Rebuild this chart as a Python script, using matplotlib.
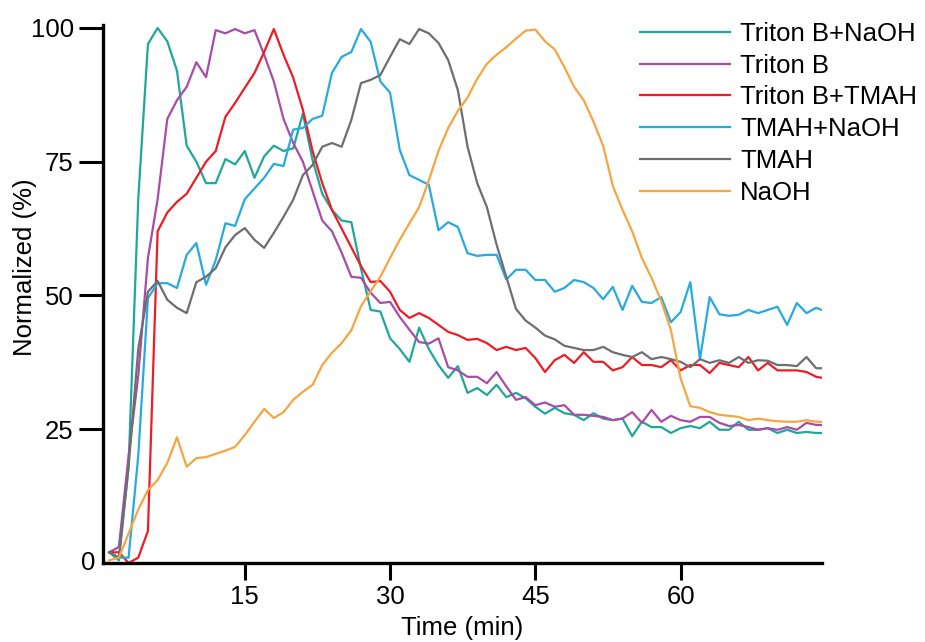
import numpy as np
import matplotlib
matplotlib.use("Agg")
import matplotlib.pyplot as plt

plt.rcParams['font.family'] = ['Liberation Sans', 'DejaVu Sans']

# время (мин), шаг 1 мин
time_min = np.arange(1, 76)

triton_b_naoh = [2, 0.5, 18, 68, 97, 100, 97.5, 92, 78, 75, 71, 71, 75.5, 74.5, 77, 72, 76, 78, 77, 77.5,
                 84, 75.3, 69, 66, 64, 63.7, 55, 47.3, 47, 42, 40, 37.6, 44, 40, 37, 34.6, 36.8, 31.8, 32.7, 31.4,
                 33.3, 31, 31.8, 30.8, 29.2, 27.9, 29, 28, 27.7, 26.7, 28, 27, 26.7, 27, 23.7, 26.4, 25.4, 25.4, 24.3, 25.2,
                 25.6, 25.2, 26.4, 24.9, 24.9, 26.4, 24.9, 24.9, 25.2, 24.3, 24.9, 24.3, 24.5, 24.3, 24.3]

triton_b = [2, 3, 20, 35, 57, 68, 83, 86.5, 89, 93.6, 90.8, 99.6, 99, 99.8, 99, 99.6, 95, 90, 83, 78.5,
            75, 69.5, 64, 62, 58, 53.5, 53.3, 50.5, 48.6, 48.8, 46, 43.6, 41.3, 41, 42, 36.6, 36, 34.8, 34.8, 33.6,
            35.7, 33, 30.5, 31, 29.5, 30, 29.2, 29.5, 27.7, 27.7, 27.5, 27.3, 26.7, 27, 28.2, 26.2, 28.6, 26.4, 27.5, 26.7,
            26.4, 27.3, 27.3, 26.2, 25.6, 25.8, 25.4, 24.9, 25.2, 24.9, 25.4, 24.9, 26.2, 25.8, 25.8]

triton_b_tmah = [2, 2, 0, 1, 6, 62, 65.5, 67.5, 69, 72, 75, 77, 83.4, 86, 88.8, 91.6, 95.5, 99.8, 95, 90.7,
                 84.7, 77, 71, 66, 62.5, 59, 55.5, 52.5, 52.7, 50.7, 47.3, 45.8, 46.7, 45.8, 44.5, 43.2, 42.6, 41.7, 41.9, 41.1,
                 39.8, 40.4, 39.8, 40.2, 38.3, 35.7, 37.9, 38.9, 37.4, 39.4, 37.6, 37.6, 36, 36.6, 38.5, 37, 37, 36.6, 37.9, 36,
                 37, 37, 35.5, 37.4, 37, 36.6, 38.5, 36, 37.4, 36, 36, 36, 35.7, 34.8, 34.5]

tmah_naoh = [2, 1, 1, 20, 49.5, 52.3, 52.3, 51.4, 57.6, 59.8, 52, 56.6, 63.5, 63, 68, 70, 72, 74.6, 74.2, 81,
             81.3, 83, 83.6, 91.6, 94.6, 95.5, 99.8, 97.4, 90, 87.9, 77.2, 72.5, 71.6, 70.7, 62.2, 63.7, 62.8, 57.9, 57.4, 57.6,
             57.6, 53, 54.8, 54.8, 52.9, 52.9, 50.7, 51.4, 52.9, 52.5, 51.4, 49.3, 51.6, 47.3, 51.8, 48.8, 48.6, 49.7, 45, 46.9,
             52.5, 38.1, 49.7, 46.5, 46.2, 46.4, 47.3, 46.7, 47.3, 47.9, 44.5, 48.6, 46.7, 47.7, 47]

tmah = [2, 1, 18, 40, 50.7, 52.7, 49.2, 47.7, 46.7, 52.5, 53.5, 55.1, 59, 61.3, 62.6, 60.4, 58.9, 61.7, 64.7, 67.9,
        72.5, 74.4, 77.8, 78.5, 77.8, 82.8, 89.7, 90.3, 91.2, 94.6, 97.9, 97, 99.8, 99, 97.2, 94, 88.4, 77.8, 71, 66.5,
        59.5, 53.5, 47.5, 45.3, 44, 42.5, 41.8, 40.6, 40.2, 39.8, 39.8, 40.4, 39.4, 38.9, 38.5, 39.4, 38.1, 38.5, 38.1, 37.6,
        36.6, 38.1, 37.4, 37.9, 37.4, 38.5, 37.4, 37.9, 37.8, 37, 37, 36.8, 38.5, 36.4, 36.4]

naoh = [0.5, 1, 5.5, 10, 13.6, 15.5, 18.7, 23.5, 18, 19.6, 19.8, 20.4, 21, 21.7, 23.9, 26.4, 28.8, 27.1, 28.2, 30.5,
        32, 33.3, 37, 39.3, 41.1, 43.5, 48, 50.8, 53.5, 57, 60.4, 63.5, 66.5, 71.5, 77, 81.3, 84.5, 87, 90.5, 93.3,
        95, 96.4, 98, 99.5, 99.7, 97.5, 96, 92.7, 89, 86.5, 82.5, 78, 70.5, 66, 62, 57, 53.3, 49, 43.5, 34.5,
        29.3, 29, 28.2, 27.7, 27.5, 27.3, 26.7, 27, 26.7, 26.5, 26.4, 26.4, 26.7, 26.4, 26.4]

series = [
    ("Triton B+NaOH", triton_b_naoh, "#1fa89a"),
    ("Triton B", triton_b, "#a84ca8"),
    ("Triton B+TMAH", triton_b_tmah, "#ee1c24"),
    ("TMAH+NaOH", tmah_naoh, "#27aae1"),
    ("TMAH", tmah, "#6d6e71"),
    ("NaOH", naoh, "#f7a541"),
]

fig = plt.figure(figsize=(9.25, 6.42), dpi=100)
ax = fig.add_axes([103 / 925, 1 - 563 / 642, 719 / 925, (563 - 25.3) / 642])

for name, vals, col in series:
    ax.plot(time_min, vals, color=col, lw=1.6, label=name)

ax.set_xlim(0.36, 74.6)
ax.set_ylim(0, 100.5)

for s in ['top', 'right']:
    ax.spines[s].set_visible(False)
for s in ['left', 'bottom']:
    ax.spines[s].set_linewidth(2.4)

ax.set_xticks([15, 30, 45, 60])
ax.set_yticks([25, 50, 75, 100])
ax.tick_params(axis='x', length=12.5, width=2.2, labelsize=18.5, pad=3.5)
ax.tick_params(axis='y', length=17, width=2.2, labelsize=18.5, pad=4)
# ноль у оси Y без риски
ax.text(-0.011, 0, "0", transform=ax.transAxes, ha='right', va='center', fontsize=18.5)

ax.set_xlabel("Time (min)", fontsize=18.5, va='center')
ax.xaxis.set_label_coords(0.5, -0.1215)
ax.set_ylabel("Normalized (%)", fontsize=18.5, va='center')
ax.yaxis.set_label_coords(-0.1085, 0.551)

ax.legend(loc='upper left', bbox_to_anchor=(640 / 925, 1 - 22 / 642), bbox_transform=fig.transFigure,
          frameon=False, fontsize=18.5, handlelength=3.5, handletextpad=0.39, labelspacing=0.3,
          borderpad=0, borderaxespad=0)

fig.savefig("out.png", dpi=100)
